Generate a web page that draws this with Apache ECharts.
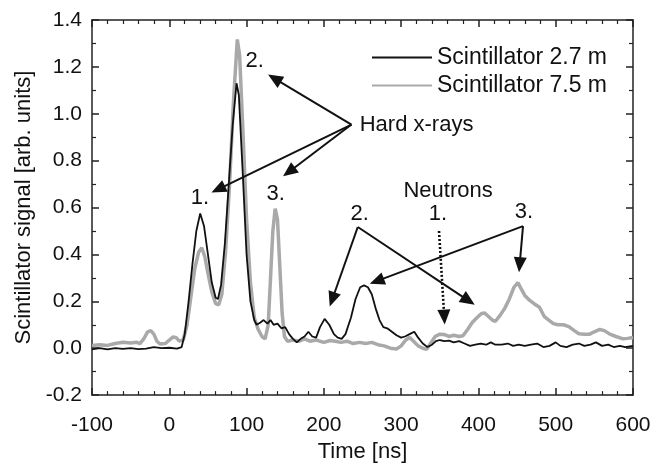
<!DOCTYPE html>
<html><head><meta charset="utf-8">
<script src="https://cdn.jsdelivr.net/npm/echarts@6/dist/echarts.min.js"></script>
<style>html,body{margin:0;padding:0;background:#fff}#c{width:671px;height:468px}</style>
</head><body><div id="c"></div>
<script>
// Scintillator 2.7 m : [time ns, signal]
const black27 = [
[-100,-0.005],[-90,0.0],[-80,-0.005],[-70,0.0],[-60,-0.003],[-50,0.0],[-40,-0.004],[-30,-0.002],[-20,0.005],[-10,0.0],[0,0.002],[10,-0.002],[16,0.005],
[20,0.06],[25,0.2],[30,0.36],[35,0.5],[40,0.575],[45,0.52],[50,0.4],[55,0.28],[60,0.215],[63,0.21],[67,0.27],[72,0.45],[77,0.7],[82,0.95],[87,1.13],[90,1.08],[95,0.75],[100,0.4],[105,0.2],[110,0.12],
[113,0.1],[118,0.11],[122,0.12],[127,0.105],[131,0.12],[135,0.1],[140,0.105],[145,0.085],[150,0.09],[155,0.06],[160,0.04],[165,0.025],[170,0.04],[175,0.05],[180,0.07],[185,0.05],[190,0.045],[195,0.09],[201,0.125],[207,0.1],[213,0.06],[218,0.045],[223,0.04],[228,0.06],[235,0.13],[241,0.21],[247,0.26],[252,0.268],[257,0.26],[262,0.23],[267,0.17],[272,0.12],[277,0.09],[282,0.085],[288,0.07],[294,0.055],[300,0.045],[305,0.05],[311,0.06],[317,0.07],[322,0.045],[328,0.02],[334,0.005],[340,0.015],[345,0.03],[350,0.035],[356,0.03],[362,0.032],[368,0.025],[375,0.03],[382,0.02],[389,0.01],[396,0.015],[403,0.02],[410,0.015],[416,0.025],[422,0.015],[430,0.015],[438,0.02],[445,0.01],[452,0.015],[460,0.01],[468,0.015],[476,0.02],[484,0.005],[492,0.01],[500,0.025],[506,0.01],[514,0.005],[522,0.015],[530,0.02],[537,0.01],[545,0.015],[552,0.025],[560,0.01],[568,0.015],[575,0.005],[583,0.01],[590,0.005],[600,0.01]
];
// Scintillator 7.5 m : [time ns, signal]
const gray75 = [
[-100,0.012],[-90,0.015],[-80,0.012],[-70,0.02],[-60,0.025],[-50,0.022],[-42,0.025],[-38,0.02],[-33,0.04],[-28,0.07],[-24,0.075],[-20,0.06],[-16,0.03],[-12,0.018],[-5,0.02],[0,0.035],[5,0.048],[9,0.045],[13,0.03],[18,0.035],
[23,0.1],[28,0.22],[33,0.34],[38,0.41],[42,0.428],[46,0.39],[50,0.32],[55,0.24],[60,0.19],[64,0.185],[68,0.23],[73,0.42],[78,0.7],[83,1.05],[88,1.317],[91,1.25],[95,0.95],[100,0.55],[105,0.28],[110,0.13],[115,0.08],[120,0.05],[124,0.04],
[128,0.1],[131,0.3],[134,0.5],[137,0.595],[140,0.55],[143,0.35],[146,0.15],[149,0.05],[153,0.03],[160,0.035],[168,0.03],[175,0.04],[182,0.03],[190,0.035],[200,0.025],[208,0.033],[215,0.03],[222,0.025],[230,0.03],[238,0.02],[246,0.025],[254,0.02],[262,0.025],[270,0.015],[278,0.01],[286,0.0],[294,-0.003],[300,0.01],[306,0.035],[311,0.046],[316,0.03],[322,0.01],[328,0.0],[333,-0.005],[338,0.02],[344,0.05],[350,0.06],[356,0.058],[362,0.05],[368,0.055],[375,0.05],[380,0.053],[386,0.08],[392,0.11],[398,0.13],[404,0.148],[408,0.15],[413,0.135],[418,0.12],[422,0.115],[428,0.14],[434,0.17],[440,0.21],[446,0.26],[451,0.28],[455,0.255],[460,0.225],[466,0.205],[472,0.19],[479,0.175],[485,0.136],[491,0.12],[497,0.105],[503,0.1],[510,0.1],[517,0.092],[524,0.075],[530,0.062],[537,0.06],[544,0.06],[550,0.07],[557,0.08],[563,0.075],[570,0.06],[578,0.05],[587,0.04],[593,0.042],[600,0.046]
];
const seriesNames = ['Scintillator 2.7 m','Scintillator 7.5 m'];
const xTitle = 'Time [ns]';
const yTitle = 'Scintillator signal [arb. units]';
// annotations in data coordinates
const arrowList = [
 {from:[235.7,0.954], to:[127.8,1.167]},
 {from:[235.7,0.954], to:[54.6,0.664]},
 {from:[235.7,0.954], to:[147.2,0.733]},
 {from:[243.9,0.517], to:[207.6,0.178]},
 {from:[243.9,0.517], to:[395.2,0.185]},
 {from:[457.7,0.521], to:[259.4,0.275]},
 {from:[457.7,0.521], to:[452.5,0.324]},
 {from:[349,0.5], to:[356.4,0.101], dotted:true}
];
const labelList = [
 {text:'1.', at:[39.5,0.643], align:'center'},
 {text:'2.', at:[110.6,1.226], align:'center'},
 {text:'3.', at:[137.8,0.657], align:'center'},
 {text:'Hard x-rays', at:[246.4,0.954], align:'left'},
 {text:'Neutrons', at:[360.7,0.671], align:'center'},
 {text:'2.', at:[246.4,0.574], align:'center'},
 {text:'1.', at:[347.7,0.574], align:'center'},
 {text:'3.', at:[459,0.58], align:'center'}
];

const FONT = '"Liberation Sans", Arial, sans-serif';
const chart = echarts.init(document.getElementById('c'), null, {renderer:'canvas'});
const axisCommon = {
  axisLine:{show:true, onZero:false, lineStyle:{color:'#222', width:1.5}},
  axisTick:{show:true, inside:true, length:7, lineStyle:{color:'#222', width:1.5}},
  minorTick:{show:true, length:4, lineStyle:{color:'#222', width:1.2}},
  splitLine:{show:false}
};
chart.setOption({
  backgroundColor:'#fff',
  animation:false,
  grid:{left:92, top:20, right:38, bottom:64},
  legend:{
    orient:'vertical', left:366, top:41, itemWidth:60, itemHeight:14, itemGap:5,
    itemStyle:{opacity:0},
    textStyle:{fontFamily:FONT, fontSize:23, color:'#111', lineHeight:23},
    data:seriesNames
  },
  xAxis:[
    Object.assign({type:'value', min:-100, max:600, interval:100, position:'bottom',
      name:xTitle, nameLocation:'middle', nameGap:40,
      nameTextStyle:{fontFamily:FONT, fontSize:22, color:'#111'},
      axisLabel:{fontFamily:FONT, fontSize:21, color:'#111', margin:20},
    }, axisCommon, {minorTick:Object.assign({}, axisCommon.minorTick, {splitNumber:5})}),
    Object.assign({type:'value', min:-100, max:600, interval:100, position:'top', axisLabel:{show:false}},
      axisCommon, {minorTick:Object.assign({}, axisCommon.minorTick, {splitNumber:5})})
  ],
  yAxis:[
    Object.assign({type:'value', min:-0.2, max:1.4, interval:0.2, position:'left',
      name:yTitle, nameLocation:'middle', nameGap:55,
      nameTextStyle:{fontFamily:FONT, fontSize:22, color:'#111'},
      axisLabel:{fontFamily:FONT, fontSize:21, color:'#111', margin:10, formatter:v=>v.toFixed(1)}
    }, axisCommon, {minorTick:Object.assign({}, axisCommon.minorTick, {splitNumber:2})}),
    Object.assign({type:'value', min:-0.2, max:1.4, interval:0.2, position:'right', axisLabel:{show:false}},
      axisCommon, {minorTick:Object.assign({}, axisCommon.minorTick, {splitNumber:2})})
  ],
  series:[
    {name:seriesNames[1], type:'line', data:gray75, showSymbol:false, symbol:'none', z:2,
     lineStyle:{color:'#a9a9a9', width:3.5}, itemStyle:{color:'#a9a9a9'}},
    {name:seriesNames[0], type:'line', data:black27, showSymbol:false, symbol:'none', z:3,
     lineStyle:{color:'#111', width:1.8}, itemStyle:{color:'#111'}}
  ]
});

function buildGraphics(){
  const els = [];
  arrowList.forEach(a=>{
    const p1 = chart.convertToPixel({xAxisIndex:0, yAxisIndex:0}, a.from);
    const p2 = chart.convertToPixel({xAxisIndex:0, yAxisIndex:0}, a.to);
    const dx = p2[0]-p1[0], dy = p2[1]-p1[1];
    const L = Math.hypot(dx,dy); const ux = dx/L, uy = dy/L;
    const hl = 15, hw = 6.5;
    const bx = p2[0]-ux*hl, by = p2[1]-uy*hl;
    els.push({type:'line', z:10, shape:{x1:p1[0], y1:p1[1], x2:bx+ux*2, y2:by+uy*2},
      style:{stroke:'#111', lineWidth:a.dotted?2.6:2, lineDash:a.dotted?[2,2]:null}});
    els.push({type:'polygon', z:10, shape:{points:[[p2[0],p2[1]],[bx-uy*hw, by+ux*hw],[bx+uy*hw, by-ux*hw]]},
      style:{fill:'#111'}});
  });
  labelList.forEach(l=>{
    const p = chart.convertToPixel({xAxisIndex:0, yAxisIndex:0}, l.at);
    els.push({type:'text', z:10, x:p[0], y:p[1],
      style:{text:l.text, fill:'#111', font:'22px '+FONT, align:l.align, verticalAlign:'middle'}});
  });
  chart.setOption({graphic:{elements:els}});
}
buildGraphics();
</script>
</body></html>
